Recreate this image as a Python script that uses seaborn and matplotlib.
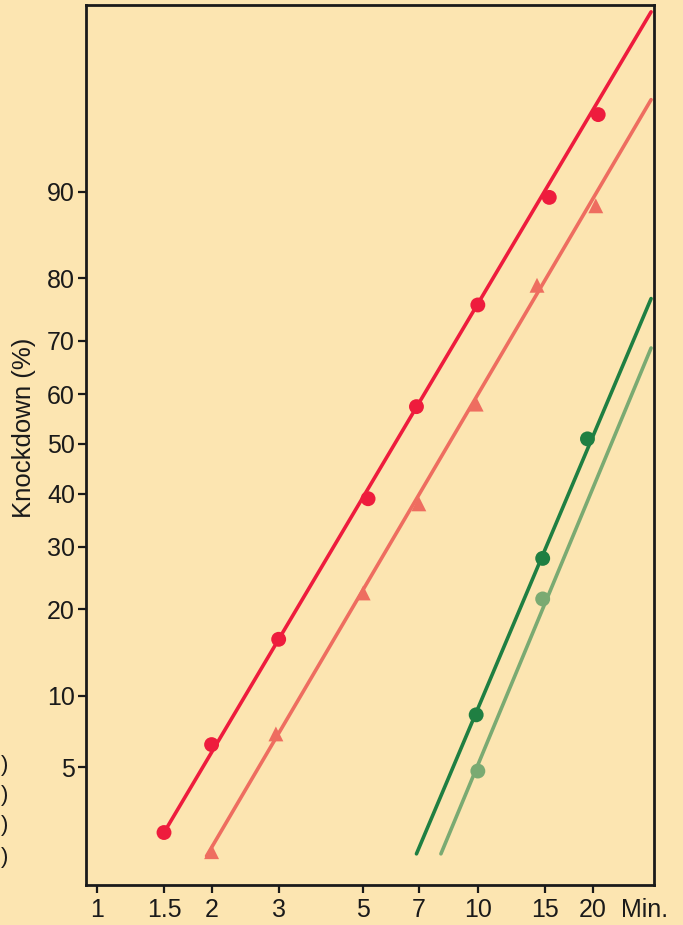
from statistics import NormalDist
import numpy as np
import seaborn as sns
import matplotlib
matplotlib.use('Agg')
import matplotlib.pyplot as plt
from matplotlib.ticker import NullLocator

# knockdown (%) against time (min), probit vs log axes
red_t = [1.5, 2, 3, 5.15, 6.9, 10, 15.4, 20.7]
red_pct = [2.4, 6.3, 16, 39, 57.5, 76, 89.5, 95.3]
red_line_t = [1.5, 28.5]
red_line_pct = [2.4, 98.6]

salmon_t = [2, 2.95, 5, 7, 9.9, 14.3, 20.4]
salmon_pct = [1.9, 7, 22.4, 38, 58, 79, 88.7]
salmon_line_t = [1.94, 28.5]
salmon_line_pct = [1.8, 96.0]

dgreen_t = [9.9, 14.8, 19.4]
dgreen_pct = [8.4, 28, 51]
dgreen_line_t = [6.9, 28.5]
dgreen_line_pct = [1.85, 77.0]

lgreen_t = [10, 14.8]
lgreen_pct = [4.8, 21.5]
lgreen_line_t = [8.0, 28.5]
lgreen_line_pct = [1.85, 68.7]

x_ticks = [1, 1.5, 2, 3, 5, 7, 10, 15, 20]
x_labels = ['1', '1.5', '2', '3', '5', '7', '10', '15', '20']
y_ticks = [5, 10, 20, 30, 40, 50, 60, 70, 80, 90]

bg = '#FCE5B1'
c_red = '#EE1C3D'
c_salmon = '#EE6D60'
c_dgreen = '#1F7F42'
c_lgreen = '#7AAA72'

nd = NormalDist()
_ppf = np.vectorize(nd.inv_cdf, otypes=[float])
_cdf = np.vectorize(nd.cdf, otypes=[float])


def probit_fwd(p):
    p = np.clip(np.asarray(p, dtype=float) / 100.0, 1e-9, 1 - 1e-9)
    return _ppf(p)


def probit_inv(z):
    return _cdf(np.asarray(z, dtype=float)) * 100.0


sns.set_theme(style='ticks')
plt.rcParams['font.family'] = ['Liberation Sans', 'DejaVu Sans']

fig = plt.figure(figsize=(6.83, 9.25), dpi=100, facecolor=bg)
ax = fig.add_axes([0.1259, 0.0432, 0.8316, 0.9514])
ax.set_facecolor(bg)

ax.set_xscale('log')
ax.set_yscale('function', functions=(probit_fwd, probit_inv))

series = [
    (red_line_t, red_line_pct, red_t, red_pct, c_red, 'o'),
    (salmon_line_t, salmon_line_pct, salmon_t, salmon_pct, c_salmon, '^'),
    (dgreen_line_t, dgreen_line_pct, dgreen_t, dgreen_pct, c_dgreen, 'o'),
    (lgreen_line_t, lgreen_line_pct, lgreen_t, lgreen_pct, c_lgreen, 'o'),
]
for lt, lp, pt, pp, col, mk in series:
    sns.lineplot(x=lt, y=lp, color=col, linewidth=2.6, ax=ax)
    sns.scatterplot(x=pt, y=pp, color=col, marker=mk, s=115,
                    edgecolor='none', ax=ax, zorder=3)

ax.set_xlim(0.936, 29.0)
ax.set_ylim(1.24, 98.72)

ax.set_xticks(x_ticks, labels=x_labels)
ax.xaxis.set_minor_locator(NullLocator())
ax.set_yticks(y_ticks, labels=[str(v) for v in y_ticks])
ax.yaxis.set_minor_locator(NullLocator())
ax.tick_params(axis='both', direction='out', length=6, width=1.6,
               color='#1a1a1a', labelsize=18, labelcolor='#1a1a1a')
ax.tick_params(axis='x', pad=3)
ax.tick_params(axis='y', pad=2)
ax.set_xlabel('')
ax.set_ylabel('')
for sp in ax.spines.values():
    sp.set_visible(True)
    sp.set_linewidth(2)
    sp.set_color('#1a1a1a')

fig.text(24 / 683, 1 - 428 / 925, 'Knockdown (%)', rotation=90,
         ha='center', va='center', fontsize=18.5, color='#1a1a1a')
fig.text(621 / 683, 1 - 910 / 925, 'Min.', ha='left', va='center',
         fontsize=18, color='#1a1a1a')
# stray closing brackets left over at the left edge
for yy in [766, 795, 825, 858]:
    fig.text(1 / 683, 1 - yy / 925, ')', ha='left', va='center',
             fontsize=16, color='#1a1a1a')

fig.savefig('out.png', dpi=100, facecolor=bg)
